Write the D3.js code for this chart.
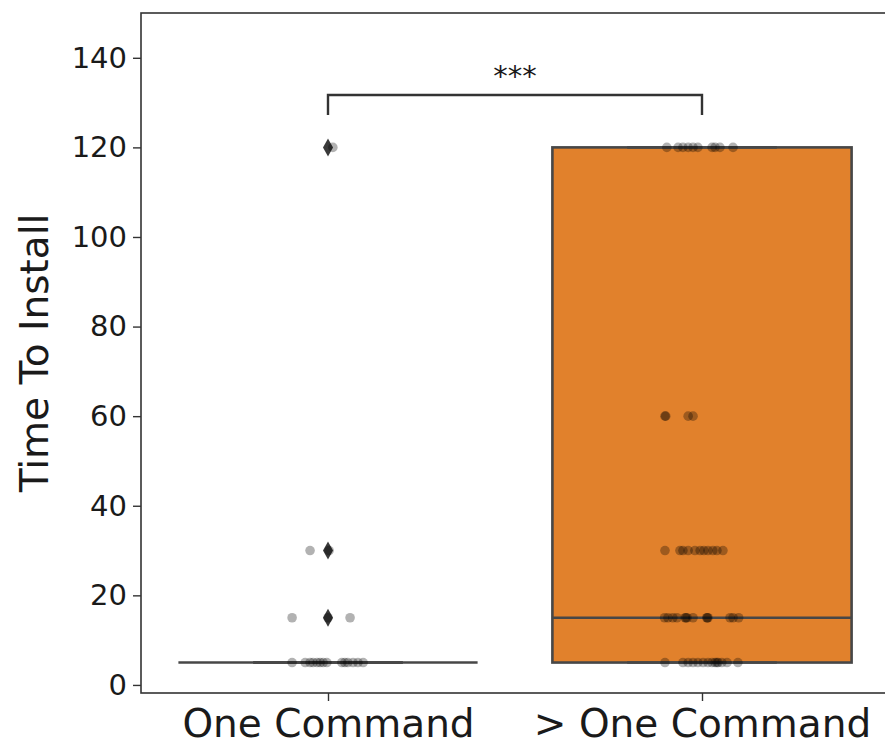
<!DOCTYPE html>
<html>
<head>
<meta charset="utf-8">
<script src="https://cdn.jsdelivr.net/npm/d3@7"></script>
<style>
  body { margin: 0; background: #fff; }
  svg text { font-family: "DejaVu Sans", sans-serif; fill: #1a1a1a; }
</style>
</head>
<body>
<div id="chart"></div>
<script>
// categories and box statistics
const groups = ["One Command", "> One Command"];
const boxColors = ["#3274a1", "#e1812c"];
const q1 = [5, 5];
const median = [5, 15];
const q3 = [5, 120];
const whiskerLow = [5, 5];
const whiskerHigh = [5, 120];

// fliers of the first group
const outliers0 = [15, 30, 120];

// strip points: value + jitter (in category units)
const strip0Values = [5, 5, 5, 5, 5, 5, 5, 5, 5, 5, 5, 5, 5, 5, 15, 15, 15, 30, 30, 120];
const strip0Jitter = [-0.096, -0.061, -0.048, -0.040, -0.029, -0.021, -0.013, -0.003, 0.037, 0.045, 0.053, 0.067, 0.080, 0.094,
  -0.096, 0.0, 0.059, -0.048, 0.003, 0.013];

const strip1Values = [120, 120, 120, 120, 120, 120, 120, 120, 120, 120,
  60, 60, 60, 60,
  30, 30, 30, 30, 30, 30, 30, 30, 30, 30, 30,
  15, 15, 15, 15, 15, 15, 15, 15, 15, 15, 15, 15, 15, 15,
  5, 5, 5, 5, 5, 5, 5, 5, 5, 5, 5, 5, 5, 5];
const strip1Jitter = [-0.094, -0.064, -0.051, -0.037, -0.024, -0.011, 0.027, 0.035, 0.048, 0.083,
  -0.099, -0.097, -0.037, -0.024,
  -0.099, -0.059, -0.051, -0.037, -0.019, -0.005, 0.005, 0.016, 0.029, 0.040, 0.056,
  -0.100, -0.091, -0.078, -0.067, -0.045, -0.043, -0.040, -0.024, 0.013, 0.016, 0.014, 0.075, 0.083, 0.098,
  -0.099, -0.051, -0.037, -0.024, -0.011, 0.003, 0.016, 0.027, 0.035, 0.043, 0.053, 0.067, 0.096, 0.040];

const yTicks = [0, 20, 40, 60, 80, 100, 120, 140];
const sigLabel = "***";

const width = 885, height = 747;
const plotLeft = 141, plotRight = 889, plotTop = 13, plotBottom = 693;

const svg = d3.select("#chart").append("svg")
  .attr("width", width)
  .attr("height", height);

const x = d3.scaleLinear().domain([-0.5, 1.5]).range([plotLeft, plotRight]);
const y = d3.scaleLinear().domain([-1.8, 150]).range([plotBottom, plotTop]);

const boxW = 0.8, capW = 0.4;
const lineColor = "#474747";
const lw = 2.6;

// boxes
groups.forEach((g, i) => {
  const bg = svg.append("g");
  // whiskers
  bg.append("line")
    .attr("x1", x(i)).attr("x2", x(i))
    .attr("y1", y(whiskerLow[i])).attr("y2", y(q1[i]))
    .attr("stroke", lineColor).attr("stroke-width", lw);
  bg.append("line")
    .attr("x1", x(i)).attr("x2", x(i))
    .attr("y1", y(q3[i])).attr("y2", y(whiskerHigh[i]))
    .attr("stroke", lineColor).attr("stroke-width", lw);
  // box
  bg.append("rect")
    .attr("x", x(i - boxW / 2))
    .attr("y", y(q3[i]))
    .attr("width", x(i + boxW / 2) - x(i - boxW / 2))
    .attr("height", Math.max(0, y(q1[i]) - y(q3[i])))
    .attr("fill", boxColors[i])
    .attr("stroke", lineColor)
    .attr("stroke-width", lw);
  // caps
  [whiskerLow[i], whiskerHigh[i]].forEach(v => {
    bg.append("line")
      .attr("x1", x(i - capW / 2)).attr("x2", x(i + capW / 2))
      .attr("y1", y(v)).attr("y2", y(v))
      .attr("stroke", lineColor).attr("stroke-width", lw);
  });
  // median
  bg.append("line")
    .attr("x1", x(i - boxW / 2)).attr("x2", x(i + boxW / 2))
    .attr("y1", y(median[i])).attr("y2", y(median[i]))
    .attr("stroke", lineColor).attr("stroke-width", lw);
});

// fliers (thin diamonds)
svg.append("g").selectAll("path")
  .data(outliers0)
  .join("path")
  .attr("d", d => {
    const cx = x(0), cy = y(d);
    return `M${cx},${cy - 9} L${cx + 5},${cy} L${cx},${cy + 9} L${cx - 5},${cy} Z`;
  })
  .attr("fill", "#3a3a3a");

// strip points
function drawStrip(values, jitter, i) {
  svg.append("g").selectAll("circle")
    .data(values.map((v, k) => ({ v: v, j: jitter[k] })))
    .join("circle")
    .attr("cx", d => x(i + d.j))
    .attr("cy", d => y(d.v))
    .attr("r", 4.8)
    .attr("fill", "#000")
    .attr("fill-opacity", 0.3);
}
drawStrip(strip0Values, strip0Jitter, 0);
drawStrip(strip1Values, strip1Jitter, 1);

// significance bracket
const bracketY = 95, bracketDrop = 20;
svg.append("path")
  .attr("d", `M${x(0)},${bracketY + bracketDrop} L${x(0)},${bracketY} L${x(1)},${bracketY} L${x(1)},${bracketY + bracketDrop}`)
  .attr("fill", "none")
  .attr("stroke", "#333")
  .attr("stroke-width", 2.4);
svg.append("text")
  .attr("x", (x(0) + x(1)) / 2)
  .attr("y", bracketY - 9)
  .attr("text-anchor", "middle")
  .style("font-size", "29px")
  .text(sigLabel);

// axes
const yAxis = svg.append("g")
  .attr("transform", `translate(${plotLeft},0)`)
  .call(d3.axisLeft(y).tickValues(yTicks).tickSize(8).tickPadding(6));
yAxis.select(".domain").remove();
yAxis.selectAll("line").attr("stroke", "#333").attr("stroke-width", 1.4);
yAxis.selectAll("text").style("font-size", "29px").attr("fill", "#1a1a1a").attr("font-family", "DejaVu Sans");

const xAxis = svg.append("g")
  .attr("transform", `translate(0,${plotBottom})`)
  .call(d3.axisBottom(x).tickValues([0, 1]).tickFormat(i => groups[i]).tickSize(8).tickPadding(8));
xAxis.select(".domain").remove();
xAxis.selectAll("line").attr("stroke", "#333").attr("stroke-width", 1.4);
xAxis.selectAll("text").style("font-size", "39px").attr("fill", "#1a1a1a").attr("font-family", "DejaVu Sans");

// spines
svg.append("rect")
  .attr("x", plotLeft).attr("y", plotTop)
  .attr("width", plotRight - plotLeft).attr("height", plotBottom - plotTop)
  .attr("fill", "none")
  .attr("stroke", "#333")
  .attr("stroke-width", 1.6);

// y label
svg.append("text")
  .attr("transform", `translate(48,${(plotTop + plotBottom) / 2}) rotate(-90)`)
  .attr("text-anchor", "middle")
  .style("font-size", "39px")
  .text("Time To Install");
</script>
</body>
</html>
